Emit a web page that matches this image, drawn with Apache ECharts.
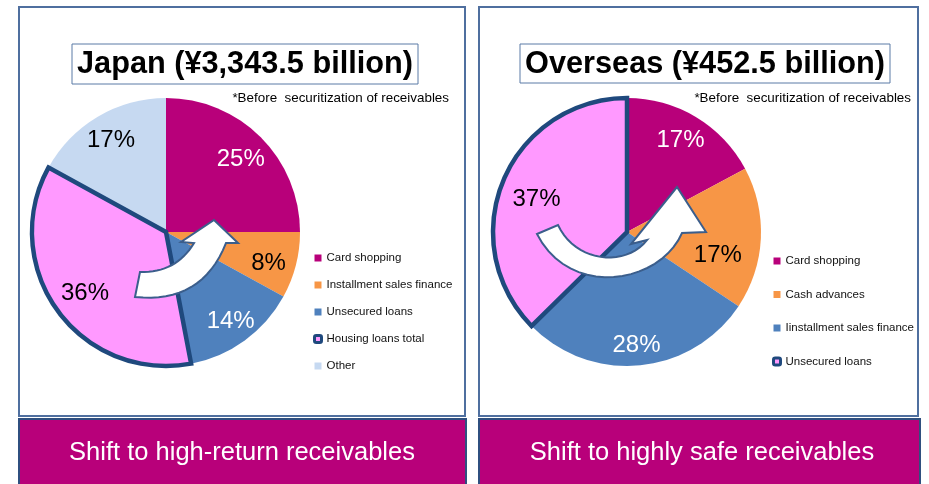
<!DOCTYPE html>
<html>
<head>
<meta charset="utf-8">
<script src="https://cdn.jsdelivr.net/npm/echarts@6/dist/echarts.min.js"></script>
<style>
  html, body { margin: 0; padding: 0; background: #fff; }
  #chart { width: 929px; height: 484px; }
</style>
</head>
<body>
<div id="chart"></div>
<script>
// data
const japanCategories = ["Card shopping", "Installment sales finance", "Unsecured loans", "Housing loans total", "Other"];
const japanShares = [25, 8, 14, 36, 17];
const overseasCategories = ["Card shopping", "Cash advances", "Iinstallment sales finance", "Unsecured loans"];
const overseasShares = [17, 17, 28, 37];

const japanColors = ["#b8007a", "#f79646", "#4f81bd", "#ff99ff", "#c6d9f1"];
const overseasColors = ["#b8007a", "#f79646", "#4f81bd", "#ff99ff"];
const japanLabelColors = ["#fff", "#000", "#fff", "#000", "#000"];
const overseasLabelColors = ["#fff", "#000", "#fff", "#000"];
// small nudges of the percentage labels [dx, dy]
const japanLabelNudge = [[-3, 5], [-4, 4], [0, 0], [8, -3], [1, 3]];
const overseasLabelNudge = [[-3, 3], [-19, 18], [-1, 4], [11, 10]];
const highlightIndex = 3; // slice with thick border

const FONT = "Liberation Sans, Arial, sans-serif";
const EDGE = "#1f497d";

const chart = echarts.init(document.getElementById("chart"));

function nudgePadding(n) {
  // horizontal shift of the text inside its centred box
  const dx = n[0];
  return [0, Math.max(-dx, 0) * 2, 0, Math.max(dx, 0) * 2];
}

function pieSeries(center, names, values, colors, labelColors, nudges) {
  // base fill
  const base = {
    type: "pie",
    center: center,
    radius: [0, 134],
    startAngle: 90,
    silent: true,
    label: { show: false },
    labelLine: { show: false },
    emphasis: { disabled: true },
    data: names.map((n, i) => ({ name: n, value: values[i], itemStyle: { color: colors[i], borderWidth: 0 } })),
  };
  // thick border of the highlighted slice, drawn on top
  const border = {
    type: "pie",
    center: center,
    radius: [0, 134],
    startAngle: 90,
    silent: true,
    z: 3,
    label: { show: false },
    labelLine: { show: false },
    emphasis: { disabled: true },
    data: values.map((v, i) => ({
      value: v,
      itemStyle: i === highlightIndex
        ? { color: "transparent", borderColor: EDGE, borderWidth: 4.5, borderJoin: "miter" }
        : { color: "transparent", borderWidth: 0 },
    })),
  };
  // labels placed near the rim
  const labels = {
    type: "pie",
    center: center,
    radius: [80, 134],
    startAngle: 90,
    silent: true,
    z: 4,
    labelLine: { show: false },
    emphasis: { disabled: true },
    label: {
      show: true,
      position: "inside",
      formatter: "{c}%",
      fontFamily: FONT,
      fontSize: 24,
    },
    data: values.map((v, i) => ({
      value: v,
      itemStyle: { color: "transparent", borderWidth: 0 },
      label: { color: labelColors[i], padding: nudgePadding(nudges[i]), offset: [0, nudges[i][1]] },
    })),
  };
  return [base, border, labels];
}

function legendData(names, colors) {
  return names.map((n, i) =>
    i === highlightIndex
      ? { name: n, icon: "roundRect", itemStyle: { color: colors[i], borderColor: EDGE, borderWidth: 3 } }
      : { name: n, icon: "rect", itemStyle: { color: colors[i], borderWidth: 0 } }
  );
}

function txt(text, x, y, size, weight, color, align) {
  return {
    type: "text",
    z: 20,
    style: {
      text: text, x: x, y: y,
      fontFamily: FONT, fontSize: size, fontWeight: weight,
      fill: color,
      align: align, textAlign: align,
      verticalAlign: "middle", textVerticalAlign: "middle",
    },
  };
}

// outline helpers for the decorative arrows
function quad(p0, c, p1) {
  const pts = [];
  for (let k = 1; k <= 16; k++) {
    const t = k / 16, u = 1 - t;
    pts.push([u * u * p0[0] + 2 * u * t * c[0] + t * t * p1[0], u * u * p0[1] + 2 * u * t * c[1] + t * t * p1[1]]);
  }
  return pts;
}
function cubic(p0, c1, c2, p1) {
  const pts = [];
  for (let k = 1; k <= 20; k++) {
    const t = k / 20, u = 1 - t;
    pts.push([
      u * u * u * p0[0] + 3 * u * u * t * c1[0] + 3 * u * t * t * c2[0] + t * t * t * p1[0],
      u * u * u * p0[1] + 3 * u * u * t * c1[1] + 3 * u * t * t * c2[1] + t * t * t * p1[1],
    ]);
  }
  return pts;
}
function arrow(points) {
  return {
    type: "polygon",
    z: 10,
    shape: { points: points },
    style: { fill: "#fff", stroke: "#3b5e8c", lineWidth: 2, lineJoin: "miter" },
  };
}

const leftArrow = [[135, 297], [140, 272]]
  .concat(quad([140, 272], [176, 273], [194, 243]))
  .concat([[181, 242], [214, 220], [238, 243], [226, 243]])
  .concat(quad([226, 243], [202, 304], [135, 297]));

const rightArrow = [[537, 234], [558, 225]]
  .concat(cubic([558, 225], [575, 262], [625, 268], [647, 240]))
  .concat([[631, 244], [677, 187], [706, 232], [682, 233]])
  .concat(cubic([682, 233], [660, 284], [570, 299], [537, 234]));

const legendText = { fontFamily: FONT, fontSize: 11.5, color: "#111", lineHeight: 14 };

const option = {
  animation: false,
  backgroundColor: "#fff",
  legend: [
    {
      orient: "vertical",
      left: 313,
      top: 251,
      padding: 0,
      itemWidth: 7,
      itemHeight: 7,
      itemGap: 13,
      selectedMode: false,
      textStyle: legendText,
      data: legendData(japanCategories, japanColors),
    },
    {
      orient: "vertical",
      left: 772,
      top: 254,
      padding: 0,
      itemWidth: 7,
      itemHeight: 7,
      itemGap: 19.5,
      selectedMode: false,
      textStyle: legendText,
      data: legendData(overseasCategories, overseasColors),
    },
  ],
  graphic: [
    // panels
    { type: "rect", z: 0, shape: { x: 19, y: 7, width: 446, height: 409 }, style: { fill: "#fff", stroke: "#4f6f9f", lineWidth: 2 } },
    { type: "rect", z: 0, shape: { x: 479, y: 7, width: 439, height: 409 }, style: { fill: "#fff", stroke: "#4f6f9f", lineWidth: 2 } },
    // banners
    { type: "rect", z: 0, shape: { x: 19, y: 419, width: 447, height: 70 }, style: { fill: "#b8007a", stroke: "#2f4f7f", lineWidth: 2 } },
    { type: "rect", z: 0, shape: { x: 479, y: 419, width: 441, height: 70 }, style: { fill: "#b8007a", stroke: "#2f4f7f", lineWidth: 2 } },
    txt("Shift to high-return receivables", 242, 453, 25.5, "normal", "#fff", "center"),
    txt("Shift to highly safe receivables", 702, 453, 25.5, "normal", "#fff", "center"),
    // title boxes
    { type: "rect", z: 1, shape: { x: 72, y: 44, width: 346, height: 40 }, style: { fill: "#fff", stroke: "#5b7ba6", lineWidth: 1 } },
    { type: "rect", z: 1, shape: { x: 520, y: 44, width: 370, height: 39 }, style: { fill: "#fff", stroke: "#5b7ba6", lineWidth: 1 } },
    txt("Japan (¥3,343.5 billion)", 245, 65, 30.7, "bold", "#000", "center"),
    txt("Overseas (¥452.5 billion)", 705, 65, 30.7, "bold", "#000", "center"),
    txt("*Before  securitization of receivables", 449, 98, 13.4, "normal", "#000", "right"),
    txt("*Before  securitization of receivables", 911, 98, 13.4, "normal", "#000", "right"),
    // curved arrows
    arrow(leftArrow),
    arrow(rightArrow),
  ],
  series: [
    ...pieSeries([166, 232], japanCategories, japanShares, japanColors, japanLabelColors, japanLabelNudge),
    ...pieSeries([627, 232], overseasCategories, overseasShares, overseasColors, overseasLabelColors, overseasLabelNudge),
  ],
};

chart.setOption(option);
</script>
</body>
</html>
